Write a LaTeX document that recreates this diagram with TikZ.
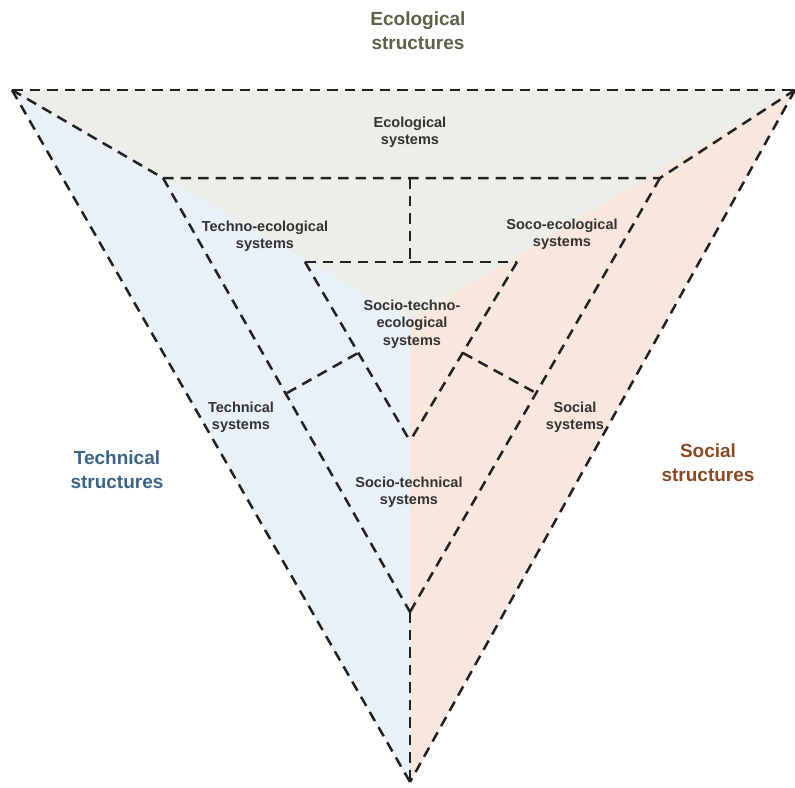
\documentclass[tikz,border=0pt]{standalone}
\usepackage{fontspec}
\setmainfont{Liberation Sans}
\begin{document}
\definecolor{ecofill}{HTML}{ECEEE8}
\definecolor{techfill}{HTML}{E8F0F8}
\definecolor{socfill}{HTML}{F9E6DC}
\definecolor{ecotext}{HTML}{5B6347}
\definecolor{techtext}{HTML}{3B6489}
\definecolor{soctext}{HTML}{8B4A22}
\definecolor{labeltext}{HTML}{333333}
\definecolor{linecol}{HTML}{222222}
\begin{tikzpicture}[x=1pt,y=-1pt,
  border/.style={draw=linecol,line width=2.5pt,dash pattern=on 10.5pt off 7pt},
  header/.style={font=\bfseries\fontsize{19}{24}\selectfont,align=center,inner sep=0pt},
  syslabel/.style={font=\bfseries\fontsize{14.5}{17.5}\selectfont,align=center,inner sep=0pt,text=labeltext}]
\useasboundingbox (0,0) rectangle (795,787);

% corner and junction points
\coordinate (A) at (12,90);
\coordinate (B) at (795,90);
\coordinate (C) at (410,782);
\coordinate (G) at (410,320);
\coordinate (P) at (163,178);
\coordinate (Q) at (660,178);
\coordinate (M) at (410,178);
\coordinate (N) at (410,262);
\coordinate (R) at (305,262);
\coordinate (S) at (517,262);
\coordinate (T) at (410,441);
\coordinate (U) at (410,612);
\coordinate (X1) at (287,393);
\coordinate (X2) at (358,353);
\coordinate (Y1) at (463,353);
\coordinate (Y2) at (536,393);

% three coloured sectors
\fill[ecofill] (A) -- (B) -- (G) -- cycle;
\fill[techfill] (A) -- (G) -- (C) -- cycle;
\fill[socfill] (B) -- (G) -- (C) -- cycle;

% outer triangle
\draw[border] (A) -- (B);
\draw[border] (A) -- (C);
\draw[border] (B) -- (C);

% inner boundaries
\draw[border] (A) -- (P) -- (Q) -- (B);
\draw[border] (M) -- (N);
\draw[border] (R) -- (S);
\draw[border] (P) -- (U);
\draw[border] (Q) -- (U);
\draw[border] (U) -- (C);
\draw[border] (R) -- (T);
\draw[border] (S) -- (T);
\draw[border] (X1) -- (X2);
\draw[border] (Y1) -- (Y2);

% structure headings
\node[header,text=ecotext] (ecohead) at (418,31) {Ecological\\structures};
\node[header,text=techtext] (techhead) at (117,470) {Technical\\structures};
\node[header,text=soctext] (sochead) at (708,463) {Social\\structures};

% system labels
\node[syslabel] (eco) at (410,132) {Ecological\\systems};
\node[syslabel] (techeco) at (265,236) {Techno-ecological\\systems};
\node[syslabel] (soceco) at (562,234) {Soco-ecological\\systems};
\node[syslabel] (ste) at (412,324) {Socio-techno-\\ecological\\systems};
\node[syslabel] (tech) at (241,417) {Technical\\systems};
\node[syslabel] (soc) at (575,417) {Social\\systems};
\node[syslabel] (soctech) at (409,492) {Socio-technical\\systems};
\end{tikzpicture}
\end{document}
